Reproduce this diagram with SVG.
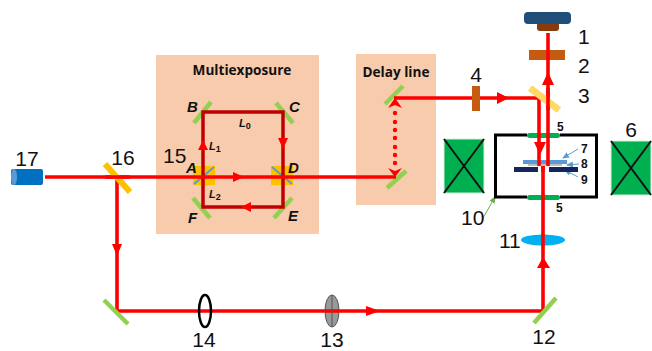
<svg xmlns="http://www.w3.org/2000/svg" width="652" height="351" viewBox="0 0 652 351">
<style>
text{font-family:"Liberation Sans",Arial,sans-serif;fill:#111}
.n{font-size:21px}
.h{font-family:"Open Sans","Liberation Sans",sans-serif;font-size:13.6px;font-weight:700}
.l{font-size:15px;font-weight:700;font-style:italic}
.s{font-size:11px;font-weight:700;font-style:italic}
.b{font-size:12px;font-weight:700}
.m{stroke:#92d050;stroke-width:4.5;fill:none}
.y{stroke:#ffc000;stroke-width:6;fill:none}
.beam{stroke:#f00;stroke-width:3.6;fill:none}
.loop{stroke:#c00000;stroke-width:3.5;fill:none}
.ah{fill:#f00}
.tb{stroke:#5b9bd5;stroke-width:1;fill:none}
.c{fill:#00b050;stroke:#d8eedd;stroke-width:1}
.x{stroke:#111;stroke-width:2}
</style>
<defs>
<marker id="bl" markerWidth="8" markerHeight="8" refX="6" refY="3" orient="auto" markerUnits="userSpaceOnUse"><path d="M0,0L7,3L0,6Z" fill="#5b9bd5"/></marker>
<marker id="gr" markerWidth="8" markerHeight="8" refX="6" refY="3" orient="auto" markerUnits="userSpaceOnUse"><path d="M0,0L7,3L0,6Z" fill="#70ad47"/></marker>
</defs>

<g id="panel-multiexposure"><rect x="156" y="55" width="163" height="179" fill="#f8cbad"/><text class="h" x="242" y="75" text-anchor="middle">Multiexposure</text></g>
<g id="panel-delay"><rect x="356" y="54" width="80" height="151" fill="#f8cbad"/><text class="h" x="396" y="77" text-anchor="middle">Delay line</text></g>

<g id="node-A-15"><rect x="193" y="166" width="22" height="19" fill="#ffc000"/><path d="M194,184L214,167" stroke="#5b9bd5" stroke-width="2"/><text class="n" x="163" y="163">15</text><text class="l" x="186" y="173">A</text></g>
<g id="node-D"><rect x="271" y="166" width="22" height="19" fill="#ffc000"/><path d="M272,167L292,184" stroke="#5b9bd5" stroke-width="2"/><text class="l" x="288" y="173">D</text></g>
<g id="node-B"><path class="m" d="M194,123L211,102"/><text class="l" x="187" y="112">B</text></g>
<g id="node-C"><path class="m" d="M276,103L293,123"/><text class="l" x="289" y="112">C</text></g>
<g id="node-E"><path class="m" d="M274,218L292,198"/><text class="l" x="288" y="221">E</text></g>
<g id="node-F"><path class="m" d="M193,198L210,218"/><text class="l" x="188" y="223">F</text></g>
<g id="node-delay-top"><path class="m" d="M385,104L403,86"/></g>
<g id="node-delay-bottom"><path class="m" d="M387,188L406,171"/></g>

<g id="connectors">
<path class="loop" d="M203,177V112H283V207H203V177"/>
<path class="beam" d="M45,177H396"/>
<path class="beam" d="M117,177V311H543V164"/>
<path class="beam" d="M394,98H539V164"/>
<path class="beam" d="M548,164V33"/>
<g fill="#f00">
<circle cx="395" cy="113" r="2.2"/><circle cx="395" cy="122" r="2.2"/><circle cx="395" cy="130" r="2.2"/><circle cx="395" cy="138" r="2.2"/><circle cx="395" cy="147" r="2.2"/><circle cx="395" cy="155" r="2.2"/><circle cx="395" cy="163" r="2.2"/>
</g>
<path class="ah" d="M395,98L402,108L395,105L388,108Z"/>
<path class="ah" d="M395,177L388,168L395,171L402,168Z"/>
<path class="ah" d="M244,177L233,172V182Z"/>
<path class="ah" d="M203,140L198,150H208Z"/>
<path class="ah" d="M283,149L278,138H288Z"/>
<path class="ah" d="M241,207L251,202V212Z"/>
<path class="ah" d="M117,256L112,244H122Z"/>
<path class="ah" d="M380,311L366,306V316Z"/>
<path class="ah" d="M509,98L497,92V104Z"/>
<path class="ah" d="M548,72L542,85H554Z"/>
<path class="ah" d="M540,155L534,142H546Z"/>
<path class="ah" d="M543,257L537,268H550Z"/>
<path class="tb" marker-end="url(#bl)" d="M578,149L563,158"/>
<path class="tb" marker-end="url(#bl)" d="M579,164L567,165"/>
<path class="tb" marker-end="url(#bl)" d="M578,177L565,170"/>
<path stroke="#70ad47" stroke-width="1" fill="none" marker-end="url(#gr)" d="M483,218L495,197"/>
</g>

<g id="node-1"><rect x="537" y="22" width="22" height="9" rx="3" fill="#843c0c"/><rect x="524" y="12" width="47" height="12" rx="4" fill="#1f4e79"/><text class="n" x="578" y="44">1</text></g>
<g id="node-2"><rect x="529" y="50" width="36" height="10" fill="#c55a11"/><path class="beam" d="M548,50V60"/><text class="n" x="578" y="73">2</text></g>
<g id="node-3"><path stroke="#ffd966" stroke-width="7" fill="none" d="M530,88L559,110"/><path class="beam" d="M548,88V110"/><text class="n" x="578" y="103">3</text></g>
<g id="node-4"><rect x="472" y="86" width="8" height="25" fill="#c55a11"/><text class="n" x="476" y="82" text-anchor="middle">4</text></g>
<g id="node-6"><rect class="c" x="611" y="141" width="40" height="54"/><path class="x" d="M611,141L651,195M651,141L611,195"/><text class="n" x="631" y="137" text-anchor="middle">6</text></g>
<g id="node-coil-left"><rect class="c" x="444" y="139" width="40" height="54"/><path class="x" d="M444,139L484,193M484,139L444,193"/></g>
<g id="node-10">
<path d="M527,135H495.500V197H527M560,197H596.500V135H560" fill="none" stroke="#000" stroke-width="3"/>
<text class="n" x="461" y="225">10</text>
</g>
<g id="node-5"><rect x="527" y="133" width="33" height="5" rx="2.500" fill="#00b050"/><rect x="527" y="195" width="33" height="5" rx="2.500" fill="#00b050"/>
<path class="beam" d="M539,133V138M548,133V138M543,195V200"/>
<text class="b" x="557" y="131">5</text><text class="b" x="556" y="212">5</text></g>
<g id="node-7-8-9">
<rect x="523" y="160" width="44" height="4" fill="#5b9bd5"/><rect x="528" y="164" width="34" height="2" fill="#bfbfbf"/>
<rect x="514" y="167" width="24" height="5" fill="#14265c"/><rect x="549" y="167" width="29" height="5" fill="#14265c"/>
<path class="beam" d="M539,160V166M548,160V166"/><path class="beam" d="M543,166V172"/>
<text class="b" x="581" y="153">7</text><text class="b" x="581" y="168">8</text><text class="b" x="581" y="184">9</text></g>
<g id="node-11"><ellipse cx="543" cy="240" rx="22" ry="5.500" fill="#00b0f0"/><path class="beam" d="M543,234V246"/><text class="n" x="499" y="248">11</text></g>
<g id="node-12"><path class="m" d="M534,323L556,298"/><text class="n" x="544" y="344" text-anchor="middle">12</text></g>
<g id="node-13"><ellipse cx="332" cy="311" rx="7" ry="16" fill="#999" stroke="#555"/><path class="beam" d="M325,311H339"/><path d="M332,295V327" stroke="#555"/><text class="n" x="332" y="347" text-anchor="middle">13</text></g>
<g id="node-14"><ellipse cx="205" cy="311" rx="6" ry="16" fill="none" stroke="#000" stroke-width="2.500"/><text class="n" x="204" y="347" text-anchor="middle">14</text></g>
<g id="node-16"><path class="y" d="M105,164L130,192"/><path class="beam" d="M105,177H130"/><text class="n" x="123" y="165" text-anchor="middle">16</text></g>
<g id="node-17"><rect x="11" y="169" width="32" height="16" rx="2" fill="#0070c0"/><ellipse cx="14" cy="177" rx="3" ry="8" fill="#5b9bd5"/><text class="n" x="27" y="166" text-anchor="middle">17</text></g>
<g id="node-mirror-bl"><path class="m" d="M104,300L128,324"/></g>

<g id="labels-loop">
<text class="s" x="239" y="127">L<tspan font-size="9" font-style="normal" dy="2">0</tspan></text>
<text class="s" x="209" y="150">L<tspan font-size="9" font-style="normal" dy="2">1</tspan></text>
<text class="s" x="209" y="198">L<tspan font-size="9" font-style="normal" dy="2">2</tspan></text>
</g>
</svg>
